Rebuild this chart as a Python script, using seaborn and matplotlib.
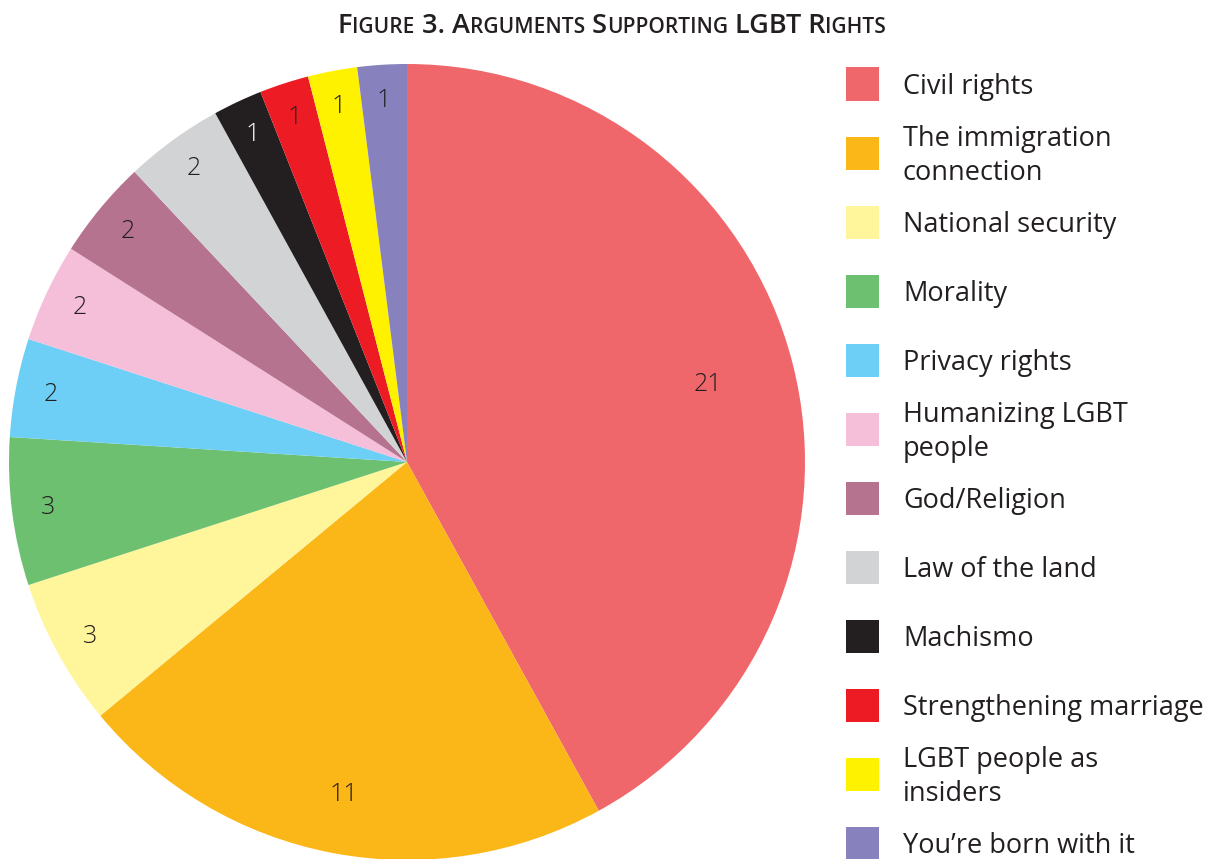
import matplotlib
matplotlib.use("Agg")
import matplotlib.pyplot as plt
import seaborn as sns
from matplotlib.offsetbox import TextArea, HPacker, AnchoredOffsetbox
from matplotlib.patches import Rectangle
import numpy as np

categories = ["Civil rights", "The immigration\nconnection", "National security",
              "Morality", "Privacy rights", "Humanizing LGBT\npeople", "God/Religion",
              "Law of the land", "Machismo", "Strengthening marriage",
              "LGBT people as\ninsiders", "You\u2019re born with it"]
counts = [21, 11, 3, 3, 2, 2, 2, 2, 1, 1, 1, 1]
colors = ["#F0676B", "#FBB617", "#FFF59A", "#6CC06F", "#6DCFF6", "#F6BFD9",
          "#B57390", "#D1D3D4", "#231F20", "#ED1C24", "#FFF200", "#8781BD"]

sns.set_theme(style="white")
plt.rcParams['font.family'] = ['Open Sans', 'DejaVu Sans']
txt_color = "#231F20"

W, H = 1220, 859
fig = plt.figure(figsize=(W / 100, H / 100), dpi=100)
ax = fig.add_axes([9 / W, -1 / H, 796 / W, 796 / H])
wedges, _ = ax.pie(counts, colors=colors, startangle=90, counterclock=False,
                   radius=1, wedgeprops=dict(linewidth=0))
ax.set_xlim(-1, 1)
ax.set_ylim(-1, 1)
ax.set_aspect("equal")
ax.axis("off")

# value labels inside slices (white on the black slice)
dists = [0.78, 0.85] + [0.91] * 10
for w, n, d, c in zip(wedges, counts, dists, colors):
    ang = np.deg2rad((w.theta1 + w.theta2) / 2)
    ax.text(d * np.cos(ang), d * np.sin(ang), str(n), ha="center", va="center",
            fontsize=18, fontweight="light",
            color="white" if c == "#231F20" else txt_color)

# legend drawn by hand, evenly spaced
for i, (lab, c) in enumerate(zip(categories, colors)):
    yc = 84 + i * 69
    fig.patches.append(Rectangle((846 / W, (H - yc - 16.5) / H), 33 / W, 33 / H,
                                 transform=fig.transFigure, facecolor=c,
                                 edgecolor="none", figure=fig))
    fig.text(903 / W, (H - yc - 3) / H, lab, ha="left", va="center", fontsize=19.5,
             color=txt_color, linespacing=1.25)

# small-caps title
big, small = 19.5, 15
parts = [("F", big), ("IGURE", small), (" 3. A", big), ("RGUMENTS", small),
         (" S", big), ("UPPORTING", small), (" LGBT R", big), ("IGHTS", small)]
boxes = [TextArea(t, textprops=dict(fontsize=s, color=txt_color, fontweight="semibold"))
         for t, s in parts]
pack = HPacker(children=boxes, align="baseline", pad=0, sep=0)
title = AnchoredOffsetbox(loc="center", child=pack, pad=0, borderpad=0, frameon=False,
                          bbox_to_anchor=(612 / W, 1 - 26 / H),
                          bbox_transform=fig.transFigure)
fig.add_artist(title)

fig.savefig("out.png", dpi=100, facecolor="white")
